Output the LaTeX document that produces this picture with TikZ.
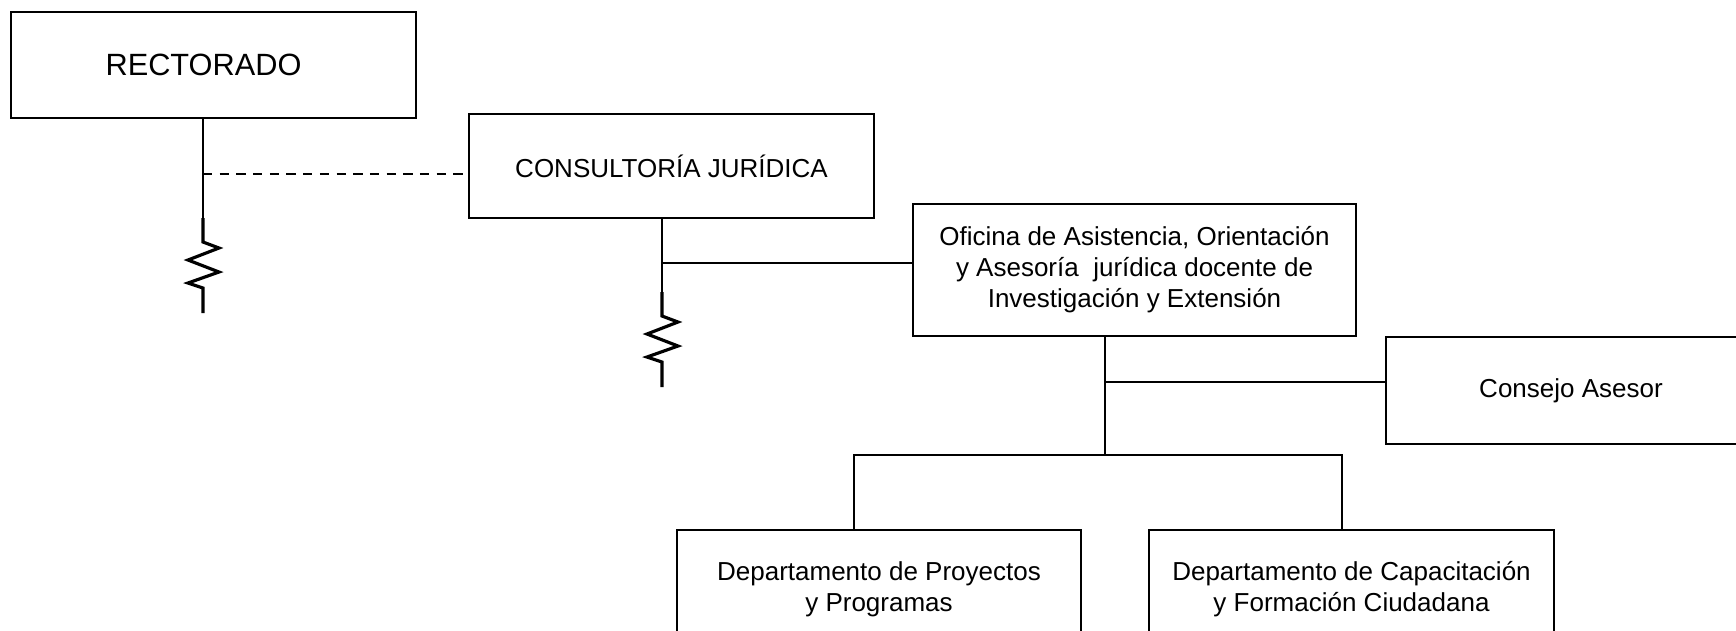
\documentclass[tikz,border=0pt]{standalone}
\usepackage{fontspec}
\setmainfont{Liberation Sans}
\begin{document}
\begin{tikzpicture}[
  x=0.02cm, y=-0.02cm,
  line width=1.1pt,
  every node/.style={draw, align=center, inner sep=0pt, font=\fontsize{14.8}{17.6}\selectfont},
  zigzag/.style={line width=1.8pt, line join=miter},
  dashes/.style={line width=1.5pt, dash pattern=on 5.3pt off 4.2pt}
]
\useasboundingbox (0,0) rectangle (1736,630);
\clip (0,0) rectangle (1736,630);
\node (rectorado) [minimum width=8.1cm, minimum height=2.12cm, font=\fontsize{17.5}{21}\selectfont] at (213.5,65) {RECTORADO\hspace*{0.4cm}};
\node (consultoria) [minimum width=8.1cm, minimum height=2.08cm] at (671.5,166) {CONSULTORÍA JURÍDICA};
\node (oficina) [minimum width=8.86cm, minimum height=2.64cm] at (1134.5,270) {Oficina de Asistencia, Orientación\\y Asesoría\ \ jurídica docente de\\Investigación y Extensión};
\node (consejo) [minimum width=7.4cm, minimum height=2.14cm] at (1571,390.5) {Consejo Asesor};
\node (proyectos) [minimum width=8.08cm, minimum height=2.36cm] at (879,589) {Departamento de Proyectos\\y Programas};
\node (capacitacion) [minimum width=8.1cm, minimum height=2.36cm] at (1351.5,589) {Departamento de Capacitación\\y Formación Ciudadana};
\coordinate (rbar) at (203,218);
\coordinate (rdash) at (203,174);
\draw (rbar |- rectorado.south) -- (rbar);
\draw[zigzag] (rbar) -- ++(0,24) -- ++(16,6) -- ++(-31,12) -- ++(31,12) -- ++(-31,11) -- ++(15,5) -- ++(0,25);
\draw[dashes] (rdash) -- (rdash -| consultoria.west);
\coordinate (cbar) at (662,292);
\coordinate (ctap) at (662,263);
\draw (cbar |- consultoria.south) -- (cbar);
\draw[zigzag] (cbar) -- ++(0,24) -- ++(16,6) -- ++(-31,12) -- ++(31,12) -- ++(-31,11) -- ++(15,5) -- ++(0,25);
\draw (ctap) -- (ctap -| oficina.west);
\coordinate (ojoin) at (1105,455);
\coordinate (otap) at (1105,382);
\coordinate (pleg) at (854,455);
\coordinate (cleg) at (1342,455);
\draw (ojoin |- oficina.south) -- (ojoin);
\draw (otap) -- (otap -| consejo.west);
\draw (pleg |- proyectos.north) -- (pleg) -- (cleg) -- (cleg |- capacitacion.north);
\end{tikzpicture}
\end{document}
